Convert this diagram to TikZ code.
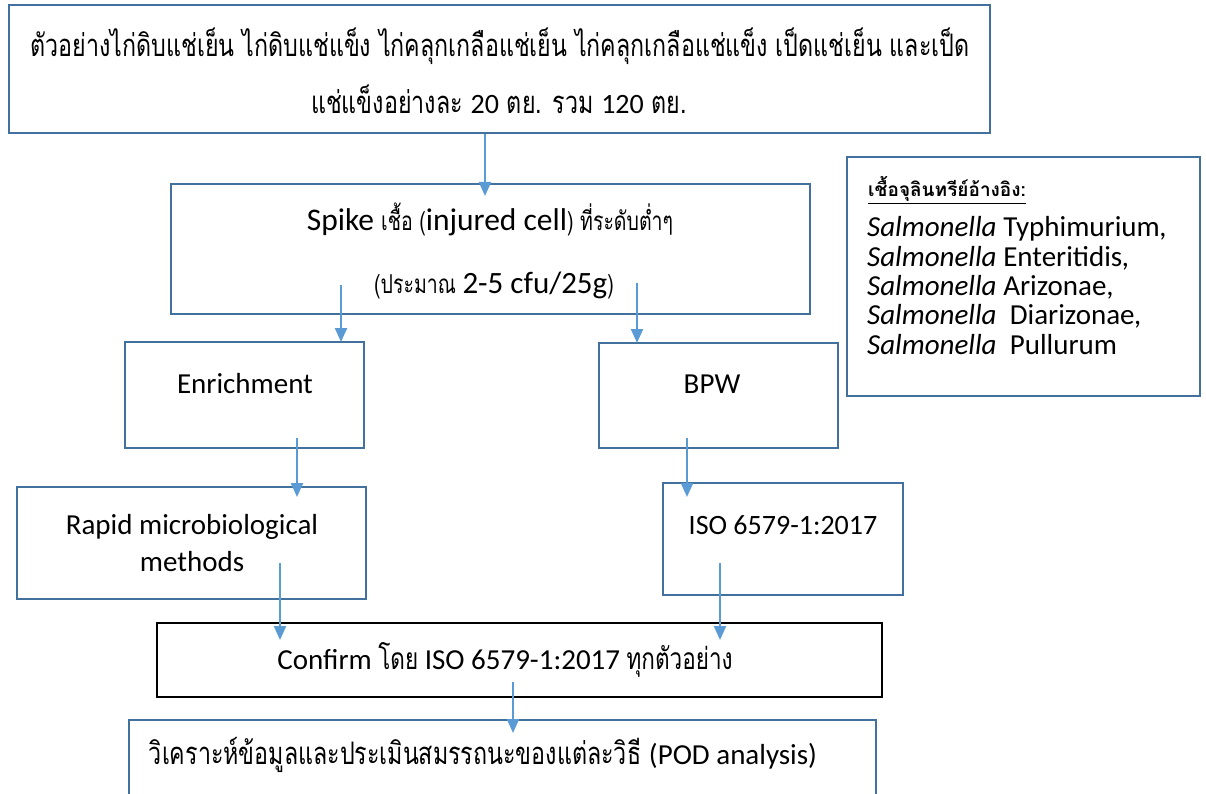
\documentclass[tikz,border=0pt]{standalone}
\usepackage{graphicx}
\usepackage{fontspec}
\setmainfont{Carlito}
\newfontfamily\thai[Script=Thai]{Loma}
\newcommand{\thaisq}[2]{\scalebox{0.75}[1]{\fontsize{#1}{#1}\selectfont\thai #2}}
\usetikzlibrary{arrows.meta}
\definecolor{boxblue}{RGB}{65,113,156}
\definecolor{arrblue}{RGB}{91,155,213}
\begin{document}
\begin{tikzpicture}[x=1pt,y=-1pt,
  box/.style={draw=boxblue,line width=2.4pt,inner sep=0pt},
  blackbox/.style={draw=black,line width=1.3pt,inner sep=0pt},
  txt/.style={inner sep=0pt,font=\fontsize{29}{37}\selectfont},
  arr/.style={draw=arrblue,line width=2.2pt,-{Triangle[length=14pt,width=12pt]}}]
\useasboundingbox (0,0) rectangle (1206,794);
% boxes
\node[box,minimum width=981pt,minimum height=128pt] (top) at (499.5,69) {};
\node[box,minimum width=639pt,minimum height=130pt] (spike) at (490.5,249) {};
\node[box,minimum width=239pt,minimum height=106pt] (enr) at (244.5,395) {};
\node[box,minimum width=239pt,minimum height=105pt] (bpw) at (718.5,395.5) {};
\node[box,minimum width=353pt,minimum height=239pt] (ref) at (1023.5,276.5) {};
\node[box,minimum width=349pt,minimum height=112pt] (rapid) at (191.5,543) {};
\node[box,minimum width=240pt,minimum height=112pt] (iso) at (783,539) {};
\node[blackbox,minimum width=725pt,minimum height=74pt] (conf) at (519.5,660) {};
\node[box,minimum width=747pt,minimum height=120pt] (pod) at (502.5,780) {};
% texts
\node[txt] (topT1) at (500,46) {\thaisq{31}{ตัวอย่างไก่ดิบแช่เย็น ไก่ดิบแช่แข็ง ไก่คลุกเกลือแช่เย็น ไก่คลุกเกลือแช่แข็ง เป็ดแช่เย็น และเป็ด}};
\node[txt,font=\fontsize{28}{34}\selectfont] (topT2) at (499,99) {\thaisq{31}{แช่แข็งอย่างละ }20\thaisq{31}{ ตย. รวม }120\thaisq{31}{ ตย.}};
\node[txt,font=\fontsize{31.5}{36}\selectfont] (spT1) at (490,219) {Spike \thaisq{26}{เชื้อ (}injured cell\thaisq{26}{) ที่ระดับต่ำๆ}};
\node[txt,font=\fontsize{31}{36}\selectfont] (spT2) at (494,285) {\thaisq{26}{(ประมาณ }2-5 cfu/25g\thaisq{26}{)}};
\node[txt] (enrT) at (245,384) {Enrichment};
\node[txt] (bpwT) at (712,384) {BPW};
\node[txt,align=center] (rapT) at (192,543) {Rapid microbiological\\methods};
\node[txt,font=\fontsize{28}{34}\selectfont] (isoT) at (783,525) {ISO 6579-1:2017};
\node[txt,font=\fontsize{29}{34}\selectfont] (confT) at (505,660) {Confirm \thaisq{30}{โดย} ISO 6579-1:2017 \thaisq{30}{ทุกตัวอย่าง}};
\node[txt] (podT) at (483,755) {\thaisq{31}{วิเคราะห์ข้อมูลและประเมินสมรรถนะของแต่ละวิธี }(POD analysis)};
\node[inner sep=0pt,anchor=west,font=\fontsize{19}{22}\selectfont\thai\bfseries] (refH) at (868,190) {\underline{เชื้อจุลินทรีย์อ้างอิง:}};
\node[inner sep=0pt,anchor=north west,align=left,font=\fontsize{29}{29.3}\selectfont] (refL) at (867,216.5) {\textit{Salmonella} Typhimurium\textit{,}\\ \textit{Salmonella} Enteritidis\textit{,}\\ \textit{Salmonella} Arizonae,\\ \textit{Salmonella}\ \ Diarizonae\textit{,}\\ \textit{Salmonella}\ \ Pullurum};
% arrow coordinates
\coordinate (a1s) at (top.south -| 485,0);
\coordinate (a1e) at (485,196);
\coordinate (a2s) at (341,285);
\coordinate (a2e) at (341,342);
\coordinate (a3s) at (637,283);
\coordinate (a3e) at (637,343);
\coordinate (a4s) at (297,438);
\coordinate (a4e) at (297,497);
\coordinate (a5s) at (687,438);
\coordinate (a5e) at (687,497);
\coordinate (a6s) at (280,563);
\coordinate (a6e) at (280,640);
\coordinate (a7s) at (720,563);
\coordinate (a7e) at (720,640);
\coordinate (a8s) at (513,682);
\coordinate (a8e) at (513,733);
\draw[arr] (a1s) -- (a1e);
\draw[arr] (a2s) -- (a2e);
\draw[arr] (a3s) -- (a3e);
\draw[arr] (a4s) -- (a4e);
\draw[arr] (a5s) -- (a5e);
\draw[arr] (a6s) -- (a6e);
\draw[arr] (a7s) -- (a7e);
\draw[arr] (a8s) -- (a8e);
\end{tikzpicture}
\end{document}
